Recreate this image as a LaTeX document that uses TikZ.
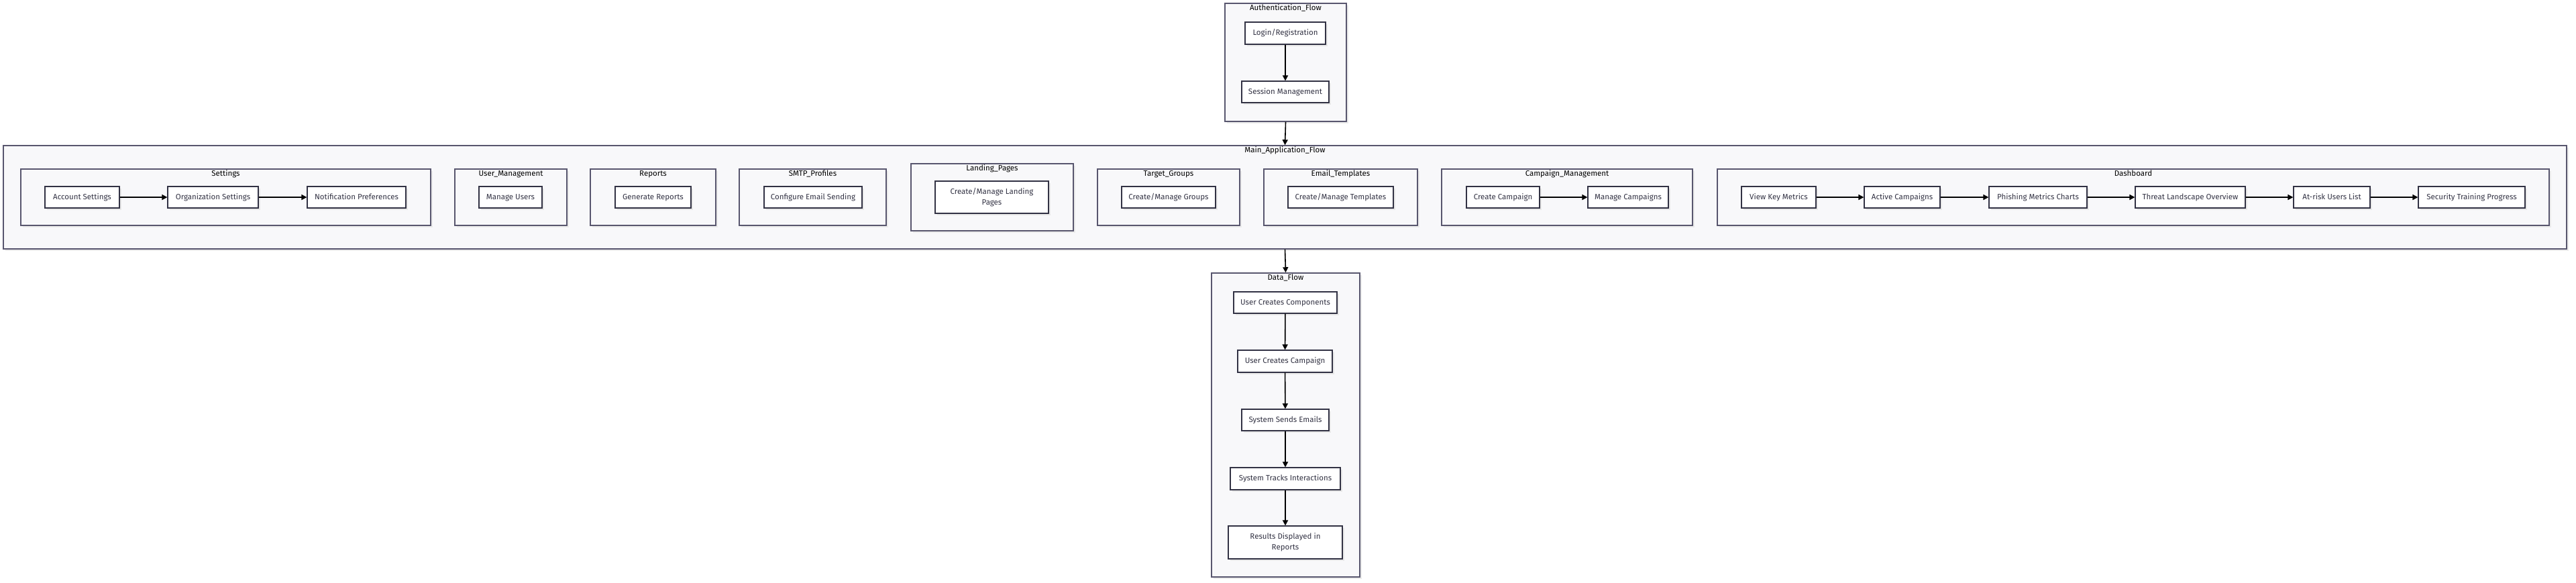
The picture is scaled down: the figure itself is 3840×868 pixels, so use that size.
\documentclass[tikz,border=0pt]{standalone}
\usepackage{fontspec}
\setmainfont{Fira Sans}
\usetikzlibrary{arrows.meta,shadows}
\definecolor{clfill}{RGB}{248,248,250}
\definecolor{clline}{RGB}{88,86,110}
\definecolor{ndline}{RGB}{50,50,68}
\definecolor{ndtext}{RGB}{51,51,68}
\begin{document}
\begin{tikzpicture}[x=1pt,y=-1pt]

    \tikzset{
      cluster/.style={
        draw=clline,
        fill=clfill,
        line width=1.5pt,
        inner sep=0pt,
        drop shadow={shadow xshift=3pt,shadow yshift=-3pt,fill=black!8,opacity=1},
      },
      cltitle/.style={
        anchor=north,
        inner sep=3pt,
        text height=8.5pt,
        text depth=2.5pt,
        text=black,
        font=\fontsize{11.5}{13}\selectfont,
      },
      proc/.style={
        draw=ndline,
        fill=white,
        line width=1.2pt,
        inner sep=0pt,
        minimum height=32pt,
        text height=8.5pt,
        text depth=2.5pt,
        align=center,
        text=ndtext,
        font=\fontsize{11.5}{16}\selectfont,
        drop shadow={shadow xshift=3pt,shadow yshift=-3pt,fill=black!9,opacity=1},
      },
      twoline/.style={
        text height={},
        text depth={},
      },
      flow/.style={
        line width=1.6pt,
        -{Triangle[length=8pt,width=8pt]},
      },
    }
    \useasboundingbox (0,0) rectangle (3840,868);

    % clusters
    \node[cluster, minimum width=181, minimum height=176] (auth) at (1916.5,93) {};
    \node[cluster, minimum width=3821, minimum height=154] (main) at (1915.5,294) {};
    \node[cluster, minimum width=221, minimum height=453] (data) at (1916.5,633.5) {};

    \node[cluster, minimum width=611, minimum height=84] (settings) at (336.5,294) {};
    \node[cluster, minimum width=167, minimum height=84] (usermgmt) at (761.5,294) {};
    \node[cluster, minimum width=187, minimum height=84] (reports) at (973.5,294) {};
    \node[cluster, minimum width=219, minimum height=84] (smtp) at (1211.5,294) {};
    \node[cluster, minimum width=242, minimum height=100] (landing) at (1479,294) {};
    \node[cluster, minimum width=212, minimum height=84] (targets) at (1742,294) {};
    \node[cluster, minimum width=229, minimum height=84] (templates) at (1998.5,294) {};
    \node[cluster, minimum width=374, minimum height=84] (campaigns) at (2336,294) {};
    \node[cluster, minimum width=1240, minimum height=84] (dashboard) at (3180,294) {};

    \node[cltitle] (authT) at (auth.north) {Authentication\_Flow};
    \node[cltitle] (mainT) at (main.north) {Main\_Application\_Flow};
    \node[cltitle] (dataT) at (data.north) {Data\_Flow};
    \node[cltitle] (settingsT) at (settings.north) {Settings};
    \node[cltitle] (usermgmtT) at (usermgmt.north) {User\_Management};
    \node[cltitle] (reportsT) at (reports.north) {Reports};
    \node[cltitle] (smtpT) at (smtp.north) {SMTP\_Profiles};
    \node[cltitle] (landingT) at (landing.north) {Landing\_Pages};
    \node[cltitle] (targetsT) at (targets.north) {Target\_Groups};
    \node[cltitle] (templatesT) at (templates.north) {Email\_Templates};
    \node[cltitle] (campaignsT) at (campaigns.north) {Campaign\_Management};
    \node[cltitle] (dashboardT) at (dashboard.north) {Dashboard};

    % authentication
    \node[proc, minimum width=120, minimum height=33] (login) at (1916,49.5) {Login/Registration};
    \node[proc, minimum width=130] (session) at (1916,137) {Session Management};

    % main application
    \node[proc, minimum width=111] (acct) at (122.5,294) {Account Settings};
    \node[proc, minimum width=135] (org) at (317.5,294) {Organization Settings};
    \node[proc, minimum width=147] (notif) at (531.5,294) {Notification Preferences};
    \node[proc, minimum width=94] (manusers) at (761,294) {Manage Users};
    \node[proc, minimum width=113] (genrep) at (973.5,294) {Generate Reports};
    \node[proc, minimum width=146] (mailcfg) at (1212,294) {Configure Email Sending};
    \node[proc, twoline, minimum width=169, minimum height=48] (pages) at (1478.5,294) {Create/Manage Landing\\Pages};
    \node[proc, minimum width=140] (groups) at (1742,294) {Create/Manage Groups};
    \node[proc, minimum width=157] (tmpl) at (1998.5,294) {Create/Manage Templates};
    \node[proc, minimum width=109] (newcamp) at (2240.5,294) {Create Campaign};
    \node[proc, minimum width=120] (mancamp) at (2427,294) {Manage Campaigns};
    \node[proc, minimum width=111] (metrics) at (2651.5,294) {View Key Metrics};
    \node[proc, minimum width=113] (active) at (2835.5,294) {Active Campaigns};
    \node[proc, minimum width=146] (charts) at (3038,294) {Phishing Metrics Charts};
    \node[proc, minimum width=164] (threat) at (3265,294) {Threat Landscape Overview};
    \node[proc, minimum width=114] (atrisk) at (3476,294) {At-risk Users List};
    \node[proc, minimum width=159] (training) at (3684.5,294) {Security Training Progress};

    % data flow
    \node[proc, minimum width=154] (comps) at (1916,451) {User Creates Components};
    \node[proc, minimum width=141, minimum height=33] (usercamp) at (1915.5,538.5) {User Creates Campaign};
    \node[proc, minimum width=130] (sends) at (1916,626) {System Sends Emails};
    \node[proc, minimum width=164, minimum height=33] (tracks) at (1916,713.5) {System Tracks Interactions};
    \node[proc, twoline, minimum width=170, minimum height=49] (results) at (1916,808.5) {Results Displayed in\\Reports};

    \draw[flow] (login) -- (session);
    \draw[flow] (auth.south) -- (main.north);
    \draw[flow] (main.south) -- (data.north);

    \draw[flow] (acct) -- (org);
    \draw[flow] (org) -- (notif);
    \draw[flow] (newcamp) -- (mancamp);
    \draw[flow] (metrics) -- (active);
    \draw[flow] (active) -- (charts);
    \draw[flow] (charts) -- (threat);
    \draw[flow] (threat) -- (atrisk);
    \draw[flow] (atrisk) -- (training);

    \draw[flow] (comps) -- (usercamp);
    \draw[flow] (usercamp) -- (sends);
    \draw[flow] (sends) -- (tracks);
    \draw[flow] (tracks) -- (results);

\end{tikzpicture}
\end{document}
